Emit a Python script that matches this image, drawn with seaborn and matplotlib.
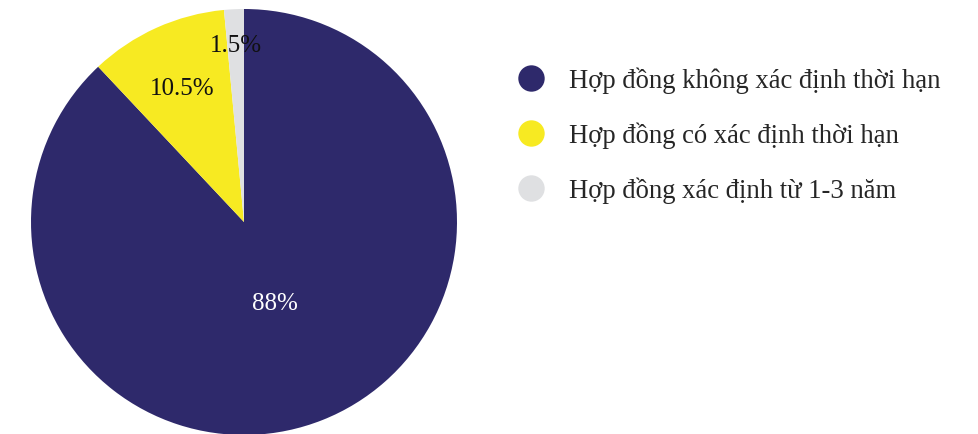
import matplotlib
matplotlib.use("Agg")
import matplotlib.pyplot as plt
from matplotlib.lines import Line2D
import numpy as np
import seaborn as sns

categories = ["Hợp đồng không xác định thời hạn",
              "Hợp đồng có xác định thời hạn",
              "Hợp đồng xác định từ 1-3 năm"]
values = [88, 10.5, 1.5]
pct_labels = ["88%", "10.5%", "1.5%"]

colors = sns.color_palette(["#2E296B", "#F7EA22", "#DFE0E2"])
label_colors = ["white", "#111111", "#111111"]
label_dist = [0.40, 0.70, 0.84]

sns.set_theme(style="white")
plt.rcParams["font.family"] = ["Liberation Serif", "DejaVu Serif"]

fig = plt.figure(figsize=(9.79, 4.35), dpi=100)
ax = fig.add_axes([31 / 979, (435 - 436) / 435, 426 / 979, 426 / 435])

wedges, _ = ax.pie(values, colors=colors, startangle=90, counterclock=False,
                   radius=1.0, wedgeprops=dict(linewidth=0))
for w, lab, c, d in zip(wedges, pct_labels, label_colors, label_dist):
    ang = np.deg2rad((w.theta1 + w.theta2) / 2)
    ax.text(d * np.cos(ang), d * np.sin(ang) - 0.01, lab, ha="center", va="center",
            fontsize=18, color=c)
ax.set_xlim(-1, 1)
ax.set_ylim(-1, 1)
ax.set_aspect("equal")
ax.axis("off")

handles = [Line2D([0], [0], marker="o", linestyle="", markersize=19,
                  markerfacecolor=c, markeredgewidth=0) for c in colors]
fig.legend(handles, categories, loc="upper left",
           bbox_to_anchor=(506 / 979, 1 - 57 / 435), frameon=False,
           fontsize=19.2, labelspacing=1.07, handletextpad=0.85,
           handlelength=1.1, borderaxespad=0)

fig.savefig("out.png", dpi=100)
